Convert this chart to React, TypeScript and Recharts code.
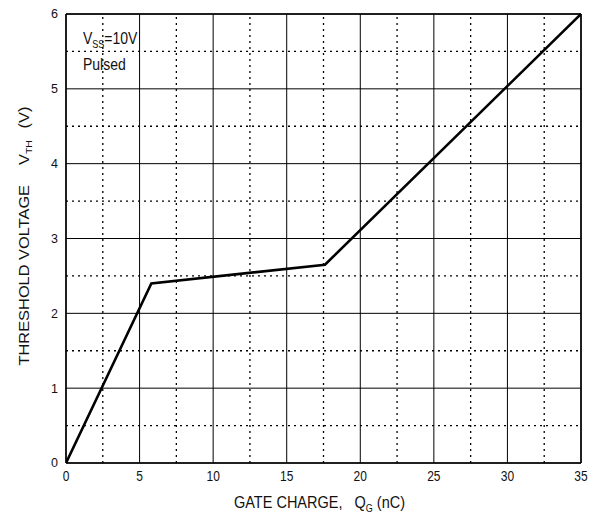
import React from 'react';
import { LineChart, Line, XAxis, YAxis, CartesianGrid, ReferenceLine } from 'recharts';

const gateCharge = [0, 5.8, 17.6, 35];
const thresholdVoltage = [0, 2.4, 2.65, 6];
const xMajorTicks = [0, 5, 10, 15, 20, 25, 30, 35];
const yMajorTicks = [0, 1, 2, 3, 4, 5, 6];
const xMinorLines = [2.5, 7.5, 12.5, 17.5, 22.5, 27.5, 32.5];
const yMinorLines = [0.5, 1.5, 2.5, 3.5, 4.5, 5.5];

const data = gateCharge.map((q, i) => ({ q, v: thresholdVoltage[i] }));

const FONT = '"Liberation Sans", Arial, sans-serif';
const W = 588;
const H = 504;
const SY = 1.17;

const XTick = (props: any) => {
  const { x, y, payload } = props;
  return (
    <text
      x={x}
      y={y}
      dy="0.71em"
      textAnchor="middle"
      fontFamily={FONT}
      fontSize={12}
      fill="#111"
      transform={`translate(${x} ${y}) scale(1 ${SY}) translate(${-x} ${-y})`}
    >
      {payload.value}
    </text>
  );
};

const YTick = (props: any) => {
  const { x, y, payload } = props;
  return (
    <text x={x} y={y} dy="0.355em" textAnchor="end" fontFamily={FONT} fontSize={12.5} fill="#111">
      {payload.value}
    </text>
  );
};

const subStyle: React.CSSProperties = { fontSize: 9, verticalAlign: 'baseline', position: 'relative', top: 3 };

export default function App() {
  return (
    <div style={{ position: 'relative', width: W, height: H, fontFamily: FONT, color: '#111' }}>
      <LineChart width={W} height={H} data={data} margin={{ top: 6, right: 15, left: 28, bottom: 19 }}>
        <CartesianGrid stroke="#000" strokeWidth={1} horizontal vertical />
        {xMinorLines.map((x) => (
          <ReferenceLine key={'x' + x} x={x} stroke="#000" strokeWidth={1.3} strokeDasharray="2 4" />
        ))}
        {yMinorLines.map((y) => (
          <ReferenceLine key={'y' + y} y={y} stroke="#000" strokeWidth={1.3} strokeDasharray="2 4" />
        ))}
        <ReferenceLine x={35} stroke="#000" strokeWidth={1.5} />
        <ReferenceLine y={6} stroke="#000" strokeWidth={1.5} />
        <XAxis
          type="number"
          dataKey="q"
          domain={[0, 35]}
          ticks={xMajorTicks}
          tickLine={false}
          axisLine={{ stroke: '#000', strokeWidth: 1.5 }}
          tick={<XTick />}
          height={30}
          interval={0}
          allowDataOverflow
        />
        <YAxis
          type="number"
          domain={[0, 6]}
          ticks={yMajorTicks}
          tickLine={false}
          axisLine={{ stroke: '#000', strokeWidth: 1.5 }}
          tick={<YTick />}
          width={30}
          interval={0}
          allowDataOverflow
        />
        <Line
          type="linear"
          dataKey="v"
          stroke="#000"
          strokeWidth={2.6}
          dot={false}
          activeDot={false}
          isAnimationActive={false}
        />
      </LineChart>

      <div
        style={{
          position: 'absolute',
          left: 75,
          top: 22,
          fontSize: 14,
          lineHeight: 1,
          whiteSpace: 'nowrap',
          transform: `scaleY(${SY})`,
          transformOrigin: 'left top',
        }}
      >
        V<sub style={subStyle}>SS</sub>=10V
      </div>
      <div
        style={{
          position: 'absolute',
          left: 75,
          top: 48,
          fontSize: 14,
          lineHeight: 1,
          whiteSpace: 'nowrap',
          transform: `scaleY(${SY})`,
          transformOrigin: 'left top',
        }}
      >
        Pulsed
      </div>

      <div
        style={{
          position: 'absolute',
          left: 54,
          width: 515,
          top: 486,
          textAlign: 'center',
          fontSize: 14.5,
          lineHeight: 1,
          whiteSpace: 'nowrap',
          transform: `scaleY(${SY})`,
          transformOrigin: 'center top',
        }}
      >
        GATE CHARGE,
        <span style={{ display: 'inline-block', width: 12 }} />
        Q<sub style={subStyle}>G</sub> (nC)
      </div>

      <div
        style={{
          position: 'absolute',
          left: 16,
          top: 228,
          transform: `translate(-50%, -50%) scaleY(${SY}) rotate(-90deg)`,
          fontSize: 14,
          lineHeight: 1,
          whiteSpace: 'nowrap',
        }}
      >
        THRESHOLD VOLTAGE
        <span style={{ display: 'inline-block', width: 17 }} />
        V<sub style={subStyle}>TH</sub>
        <span style={{ display: 'inline-block', width: 10 }} />
        (V)
      </div>
    </div>
  );
}
